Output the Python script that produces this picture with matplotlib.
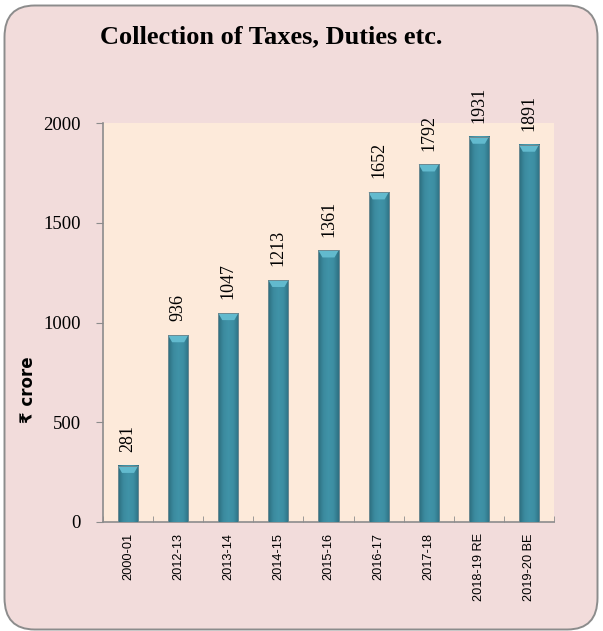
import matplotlib
matplotlib.use("Agg")
import matplotlib.pyplot as plt
import numpy as np
from matplotlib.patches import FancyBboxPatch
from matplotlib.colors import LinearSegmentedColormap

categories = ["2000-01", "2012-13", "2013-14", "2014-15", "2015-16",
              "2016-17", "2017-18", "2018-19 RE", "2019-20 BE"]
values = [281, 936, 1047, 1213, 1361, 1652, 1792, 1931, 1891]
yticks = [0, 500, 1000, 1500, 2000]

fig = plt.figure(figsize=(6.03, 6.31), dpi=100)
fig.patch.set_facecolor("white")

# Rounded outer frame
frame = FancyBboxPatch((4.5 / 603, 1.5 / 631), 593 / 603, 624 / 631,
                       boxstyle="round,pad=0,rounding_size=0.05",
                       transform=fig.transFigure, facecolor="#F2DCDB",
                       edgecolor="#8C8C8C", linewidth=1.4, zorder=-10)
fig.patches.append(frame)

ax = fig.add_axes([103 / 603, 1 - 522 / 631, 451 / 603, 399 / 631])
ax.set_zorder(5)
ax.set_facecolor("#FDEADA")

x = np.arange(len(categories))
w = 0.4
cmap = LinearSegmentedColormap.from_list(
    "bar", ["#2C6C7D", "#3B8A9E", "#4093A8", "#3D8EA2", "#2E7082"])
grad = np.linspace(0, 1, 64).reshape(1, -1)
bars = ax.bar(x, values, width=w, color="#3A8A9E", zorder=2)
for b, v in zip(bars, values):
    x0 = b.get_x()
    ax.imshow(grad, cmap=cmap, aspect="auto", zorder=3,
              extent=[x0, x0 + w, 0, v], interpolation="bicubic")
    # top bevel cap
    cap = 35
    ax.fill([x0, x0 + w, x0 + w * 0.8, x0 + w * 0.2],
            [v, v, v - cap, v - cap], color="#62BACE", zorder=4, lw=0)
    ax.plot([x0, x0 + w, x0 + w, x0, x0], [0, 0, v, v, 0],
            color="#6E8A92", lw=0.7, zorder=5)
    ax.text(b.get_x() + w / 2, v + 70, f"{v}", rotation=90,
            ha="center", va="bottom", fontsize=13,
            family="Liberation Serif", color="black", zorder=6,
            clip_on=False)

ax.set_xlim(-0.5, len(categories) - 0.5)
ax.set_ylim(0, 2000)
ax.set_yticks(yticks)
ax.set_yticklabels([str(t) for t in yticks], family="Liberation Serif",
                   fontsize=13.5)
ax.set_xticks(x)
ax.set_xticklabels(categories, rotation=90, family="Liberation Sans",
                   fontsize=9.2)
ax.tick_params(axis="x", length=0, pad=8)
ax.set_xticks(np.arange(len(categories) + 1) - 0.5, minor=True)
ax.tick_params(axis="x", which="minor", direction="in", length=4,
               color="#8C8C8C")
ax.tick_params(axis="y", direction="out", length=5, color="#8C8C8C",
               pad=11)
for s in ["top", "right"]:
    ax.spines[s].set_visible(False)
for s in ["left", "bottom"]:
    ax.spines[s].set_color("#8C8C8C")
    ax.spines[s].set_linewidth(1.2)

fig.text(271 / 603, 1 - 37 / 631, "Collection of Taxes, Duties etc.",
         ha="center", va="center", fontsize=19, fontweight="bold",
         family="Liberation Serif")
fig.text(28 / 603, 1 - 390 / 631, "₹ crore", rotation=90, ha="center",
         va="center", fontsize=12, fontweight="bold",
         family=["DejaVu Sans"])

fig.savefig("out.png", dpi=100, facecolor="white")
